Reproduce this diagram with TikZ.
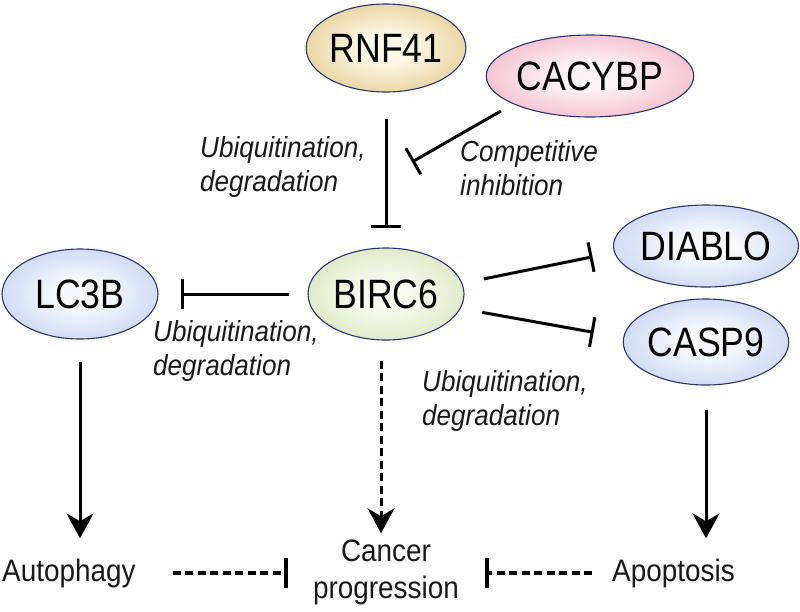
\documentclass[tikz,border=0pt]{standalone}
\usepackage{fontspec}
\setmainfont{Liberation Sans}
\newfontfamily\condfont[FakeStretch=0.87]{Liberation Sans}
\newfontfamily\semicondfont[FakeStretch=0.9]{Liberation Sans}
\usetikzlibrary{shapes.geometric,arrows.meta}
\definecolor{edgeblue}{HTML}{27356F}
\definecolor{goldin}{HTML}{FDF8E6}
\definecolor{goldout}{HTML}{CFA64A}
\definecolor{pinkin}{HTML}{FDF2F6}
\definecolor{pinkout}{HTML}{E9839F}
\definecolor{bluein}{HTML}{F5F8FE}
\definecolor{blueout}{HTML}{9DB3E3}
\definecolor{greenin}{HTML}{F8FBEE}
\definecolor{greenout}{HTML}{BCD296}
\pgfdeclareradialshading{goldshade}{\pgfpoint{0bp}{0bp}}{color(0bp)=(goldin); color(8bp)=(goldin); color(50bp)=(goldout); color(60bp)=(goldout)}
\pgfdeclareradialshading{pinkshade}{\pgfpoint{0bp}{0bp}}{color(0bp)=(pinkin); color(8bp)=(pinkin); color(50bp)=(pinkout); color(60bp)=(pinkout)}
\pgfdeclareradialshading{blueshade}{\pgfpoint{0bp}{0bp}}{color(0bp)=(bluein); color(8bp)=(bluein); color(50bp)=(blueout); color(60bp)=(blueout)}
\pgfdeclareradialshading{greenshade}{\pgfpoint{0bp}{0bp}}{color(0bp)=(greenin); color(8bp)=(greenin); color(50bp)=(greenout); color(60bp)=(greenout)}
\tikzset{
  gene/.style={ellipse, draw=edgeblue, line width=1.1pt, inner sep=0pt, shade,
    font=\condfont\fontsize{41}{44}\selectfont},
  lab/.style={font=\semicondfont\fontsize{29}{34}\selectfont\itshape, align=left, inner sep=0pt, text=black!90},
  btxt/.style={font=\semicondfont\fontsize{31}{37}\selectfont, inner sep=0pt, text=black!90},
  inh/.style={line width=3pt, -{Bar[width=30pt]}},
  act/.style={line width=3pt, -{Stealth[length=25pt,width=27pt,inset=8pt]}},
  dsh/.style={dash pattern=on 8pt off 4.5pt}
}
\begin{document}
\begin{tikzpicture}[x=1pt,y=-1pt]
\useasboundingbox (0,0) rectangle (800,611);
% nodes
\node[gene, shading=goldshade, minimum width=157pt, minimum height=88pt] (rnf) at (386,48) {RNF41};
\node[gene, shading=pinkshade, minimum width=206pt, minimum height=82pt] (cacybp) at (590,76) {CACYBP};
\node[gene, shading=greenshade, minimum width=156pt, minimum height=92pt] (birc) at (386,294) {BIRC6};
\node[gene, shading=blueshade, minimum width=156pt, minimum height=90pt] (lc3b) at (80,294) {LC3B};
\node[gene, shading=blueshade, minimum width=182pt, minimum height=82pt] (diablo) at (706,246) {DIABLO};
\node[gene, shading=blueshade, minimum width=164pt, minimum height=86pt] (casp9) at (706,342) {CASP9};
% labels
\node[lab, anchor=west] (l1) at (200,167) {Ubiquitination,\\degradation};
\node[lab, anchor=west] (l2) at (460,168) {Competitive\\inhibition};
\node[lab, anchor=west] (l3) at (153,351) {Ubiquitination,\\degradation};
\node[lab, anchor=west] (l4) at (422,401) {Ubiquitination,\\degradation};
% bottom texts
\node[btxt, anchor=base west] (auto) at (2,581) {Autophagy};
\node[btxt, align=center] (cancer) at (386,572) {Cancer\\progression};
\node[btxt, anchor=base west] (apop) at (612,581) {Apoptosis};
% connectors
\coordinate (hit) at (412,162);
\draw[inh, shorten <=26pt, shorten >=19pt] (rnf.south) -- (birc.north);
\draw[inh, shorten <=14pt] (cacybp.200) -- (hit);
\draw[inh, shorten <=18pt, shorten >=22pt] (birc.west) -- (lc3b.east);
\draw[inh, shorten <=22pt, shorten >=22pt] (birc.8) -- (diablo.184);
\draw[inh, shorten <=22pt, shorten >=30pt] (birc.349) -- (casp9.177);
\draw[act, shorten <=22pt, shorten >=20pt] (lc3b.south) -- (lc3b.south |- auto.north);
\draw[act, dsh, shorten <=20pt, shorten >=6pt] ([xshift=-5pt]birc.south) -- ([xshift=-5pt]birc.south |- cancer.north);
\draw[act, shorten <=24pt, shorten >=20pt] (casp9.south) -- (casp9.south |- apop.north);
\draw[inh, dsh, line width=3.5pt, shorten <=37pt, shorten >=25pt] (auto.east) -- (auto.east -| cancer.west);
\draw[inh, dsh, line width=3.5pt, shorten <=20pt, shorten >=26pt] (apop.west) -- (apop.west -| cancer.east);
\end{tikzpicture}
\end{document}
